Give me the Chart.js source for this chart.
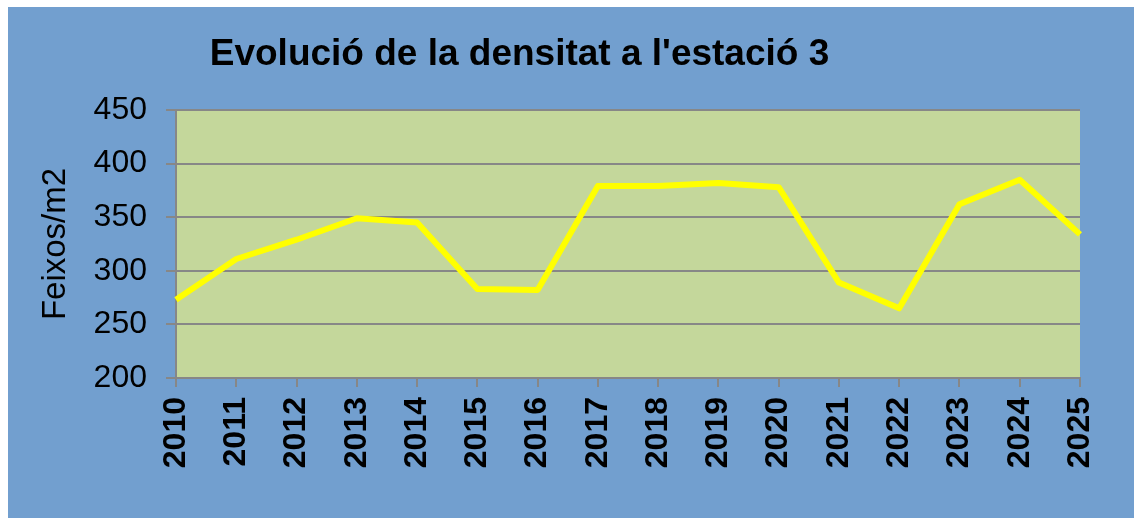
<!DOCTYPE html>
<html>
<head>
<meta charset="utf-8">
<script src="https://cdn.jsdelivr.net/npm/chart.js@4"></script>
<style>
  html, body { margin: 0; padding: 0; background: #ffffff; }
  #wrap { position: absolute; left: 8px; top: 7px; width: 1126px; height: 511px; }
  canvas { display: block; }
</style>
</head>
<body>
<div id="wrap"><canvas id="c" width="1126" height="511"></canvas></div>
<script>
const chartTitle = "Evolució de la densitat a l'estació 3";
const yAxisTitle = "Feixos/m2";
const years = ["2010","2011","2012","2013","2014","2015","2016","2017","2018","2019","2020","2021","2022","2023","2024","2025"];
const density = [273, 311, 329, 349, 345, 283, 282, 379, 379, 382, 378, 289, 265, 362, 385, 334];
const yMin = 200, yMax = 450, yStep = 50;

const bgPlugin = {
  id: 'bg',
  beforeDraw(chart) {
    const ctx = chart.ctx, a = chart.chartArea;
    ctx.save();
    ctx.fillStyle = '#729FCF';
    ctx.fillRect(0, 0, chart.width, chart.height);
    ctx.fillStyle = '#C4D79B';
    ctx.fillRect(a.left, a.top, a.right - a.left, a.bottom - a.top);
    ctx.restore();
  },
  afterDraw(chart) {
    const ctx = chart.ctx;
    ctx.save();
    ctx.fillStyle = '#000000';
    ctx.font = 'bold 37px "Liberation Sans Narrow", "Liberation Sans", Arial, sans-serif';
    ctx.textAlign = 'center';
    ctx.textBaseline = 'alphabetic';
    ctx.fillText(chartTitle, 511.5, 58);
    ctx.restore();
  }
};

new Chart(document.getElementById('c'), {
  type: 'line',
  data: {
    labels: years,
    datasets: [{
      data: density,
      borderColor: '#FFFF00',
      borderWidth: 6,
      pointRadius: 0,
      pointHoverRadius: 0,
      tension: 0,
      fill: false,
      borderJoinStyle: 'round',
      borderCapStyle: 'butt'
    }]
  },
  options: {
    responsive: false,
    animation: false,
    layout: { padding: { left: 0, right: 54, top: 103, bottom: 0 } },
    plugins: { legend: { display: false }, title: { display: false }, tooltip: { enabled: false } },
    scales: {
      x: {
        offset: false,
        afterFit(scale) { scale.height = 140; },
        grid: { drawOnChartArea: false, drawTicks: true, tickLength: 9, color: '#878787', lineWidth: 2 },
        border: { display: true, color: '#878787', width: 2 },
        ticks: {
          autoSkip: false, minRotation: 90, maxRotation: 90, padding: 10,
          color: '#000000',
          font: { family: '"Liberation Sans", Arial, sans-serif', size: 32, weight: 'bold' }
        }
      },
      y: {
        min: yMin, max: yMax,
        afterFit(scale) { scale.width = 168; },
        grid: { drawTicks: true, tickLength: 10, color: '#878787', lineWidth: 2 },
        border: { display: true, color: '#878787', width: 2 },
        ticks: {
          stepSize: yStep, padding: 19, color: '#000000',
          font: { family: '"Liberation Sans", Arial, sans-serif', size: 32 }
        },
        title: {
          display: true, text: yAxisTitle, color: '#000000',
          padding: { top: 28, bottom: 0 },
          font: { family: '"Liberation Sans", Arial, sans-serif', size: 33, lineHeight: 1.2 }
        }
      }
    }
  },
  plugins: [bgPlugin]
});
</script>
</body>
</html>
